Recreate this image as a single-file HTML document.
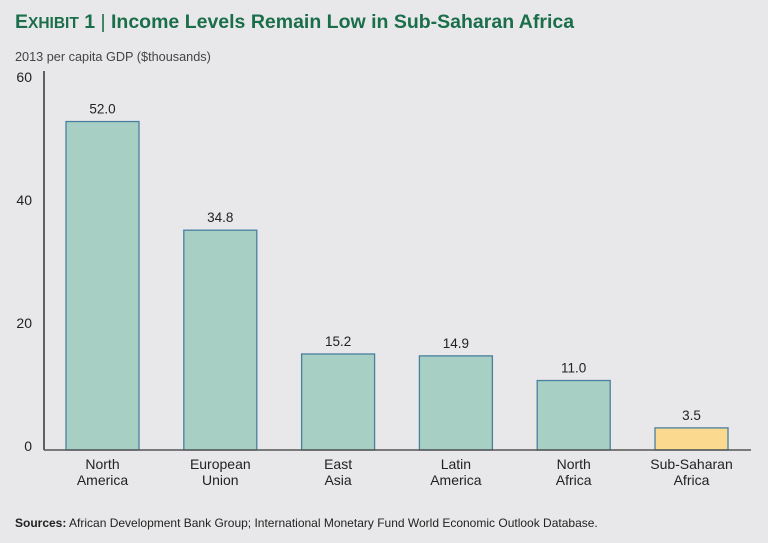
<!DOCTYPE html>
<html><head><meta charset="utf-8"><style>
body{margin:0;background:#e8e8ea;font-family:"Liberation Sans",sans-serif;}
svg{display:block}
</style></head><body>
<svg width="768" height="543">
<rect width="768" height="543" fill="#e8e8ea"/>
<text x="15" y="28" fill="#1a6e4a" font-size="19.5" font-weight="bold"><tspan>E</tspan><tspan font-size="15.5">XHIBIT</tspan> 1 <tspan font-weight="normal">|</tspan> Income Levels Remain Low in Sub-Saharan Africa</text>
<text x="15" y="61" fill="#444" font-size="12.7">2013 per capita GDP ($thousands)</text>
<g id="plot"></g>
<text x="15" y="527" fill="#222" font-size="12"><tspan font-weight="bold">Sources:</tspan> African Development Bank Group; International Monetary Fund World Economic Outlook Database.</text>
</svg>
<script>
const categories=[["North","America"],["European","Union"],["East","Asia"],["Latin","America"],["North","Africa"],["Sub-Saharan","Africa"]];
const values=[52.0,34.8,15.2,14.9,11.0,3.5];
const labels=["52.0","34.8","15.2","14.9","11.0","3.5"];
const ticks=[0,20,40,60];
const NS="http://www.w3.org/2000/svg";
const g=document.getElementById("plot");
const y0=450,yTop=71,yMax=60;
const y=v=>y0-(v/yMax)*(y0-yTop);
const yl=v=>446-v*6.15+5;
const x=i=>66+i*117.8;
const bw=73;
function mk(t,a){const e=document.createElementNS(NS,t);for(const k in a)e.setAttribute(k,a[k]);g.appendChild(e);return e;}
ticks.forEach(t=>{const e=mk("text",{x:32,y:yl(t),"text-anchor":"end","font-size":"14",fill:"#222"});e.textContent=t;

});
values.forEach((v,i)=>{
const r=mk("rect",{x:x(i),y:y(v),width:bw,height:y0-y(v),fill:i==5?"#fbd98e":"#a8cfc3",stroke:"#4a7fa0","stroke-width":"1.3"});


const t=mk("text",{x:x(i)+bw/2,y:y(v)-8,"text-anchor":"middle","font-size":"13.5",fill:"#222"});t.textContent=labels[i];


categories[i].forEach((s,j)=>{const c=mk("text",{x:x(i)+bw/2,y:469+j*16,"text-anchor":"middle","font-size":"14",fill:"#222"});c.textContent=s;

});
});
const ax=mk("line",{x1:44,y1:yTop,x2:44,y2:y0,stroke:"#333","stroke-width":"1.5"});


const bx=mk("line",{x1:44,y1:y0,x2:751,y2:y0,stroke:"#555","stroke-width":"1.5"});


</script>
</body></html>
